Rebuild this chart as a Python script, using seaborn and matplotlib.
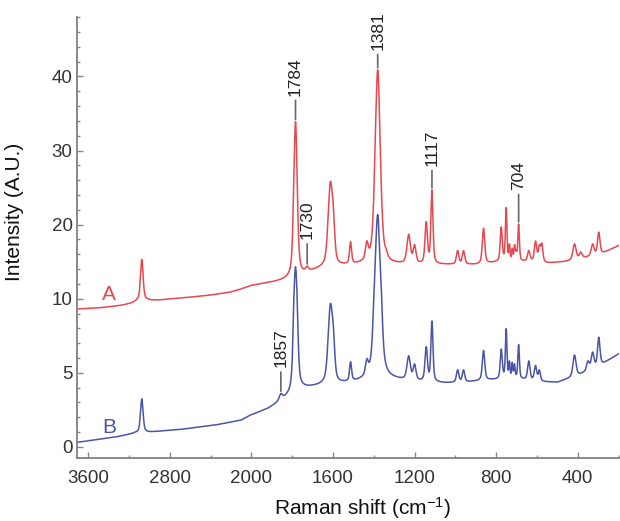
import numpy as np
import pandas as pd
import matplotlib
matplotlib.use("Agg")
import matplotlib.pyplot as plt
import seaborn as sns

# ---------------- data ----------------
# baseline anchor points (Raman shift cm-1, intensity)
base_A_x = [3712, 3460, 3270, 3120, 2990, 2830, 2600, 2390, 2200, 2100, 1950, 1880, 1840, 1750, 1700, 1650, 1550, 1450, 1300, 1050, 900, 800, 650, 550, 460, 350, 280, 196]
base_A_y = [9.3, 9.4, 9.55, 9.75, 9.85, 9.95, 10.2, 10.5, 10.9, 11.3, 12.0, 12.3, 12.5, 13.2, 13.7, 14.1, 14.4, 14.6, 14.6, 14.6, 14.6, 14.9, 15.0, 14.8, 15.0, 15.6, 16.1, 17.2]
base_B_x = [3712, 3300, 3130, 2990, 2660, 2330, 2100, 1990, 1915, 1880, 1830, 1750, 1650, 1550, 1450, 1300, 1200, 1050, 950, 850, 700, 600, 500, 400, 300, 196]
base_B_y = [0.3, 0.7, 0.95, 1.0, 1.2, 1.5, 1.8, 2.2, 2.6, 2.9, 3.3, 3.9, 4.15, 4.25, 4.4, 4.5, 4.4, 4.3, 4.35, 4.5, 4.6, 4.4, 4.35, 4.8, 5.4, 6.3]

# peaks: position (cm-1), apex intensity, half width (cm-1)
peak_A_x = [3075, 1784, 1727, 1613, 1598, 1514, 1434, 1381, 1339, 1229, 1200, 1143, 1115, 989, 960, 862, 775, 751, 735, 721, 710, 702, 690, 640, 607, 588, 576, 416, 385, 327, 297]
peak_A_y = [15.3, 33.9, 14.4, 25.8, 22.4, 17.7, 17.8, 40.9, 16.7, 18.7, 17.3, 20.4, 24.7, 16.5, 16.5, 19.5, 19.7, 22.3, 17.4, 16.8, 17.3, 16.6, 20.1, 16.5, 17.8, 17.3, 17.5, 17.4, 16.3, 17.4, 19.0]
peak_A_w = [15, 10, 8, 13, 8, 6, 8, 15, 7, 10, 8, 7, 6, 7, 7, 7, 6, 4.5, 3.5, 3.5, 3.5, 3.5, 4.5, 7, 7, 6, 6, 9, 8, 8, 7]

peak_B_x = [3075, 1856, 1784, 1727, 1613, 1598, 1514, 1434, 1381, 1339, 1229, 1200, 1143, 1115, 989, 960, 862, 775, 751, 735, 721, 710, 690, 640, 607, 588, 416, 350, 327, 297]
peak_B_y = [3.24, 3.6, 14.3, 4.15, 9.66, 8.1, 5.74, 5.95, 21.35, 5.5, 6.15, 5.6, 6.76, 8.5, 5.2, 5.2, 6.5, 6.6, 7.97, 5.8, 5.7, 5.6, 6.9, 5.8, 5.5, 5.2, 6.2, 5.8, 6.4, 7.4]
peak_B_w = [15, 9, 10, 8, 13, 8, 6, 8, 15, 7, 10, 8, 7, 6, 7, 7, 7, 6, 4.5, 3.5, 3.5, 3.5, 4.5, 7, 7, 6, 9, 8, 8, 7]

# annotations: (text, series, peak position, offset in px)
labels_text = ["1784", "1730", "1381", "1117", "704", "1857"]
labels_series = ["A", "A", "A", "A", "A", "B"]
labels_x = [1784, 1727, 1381, 1115, 690, 1856]
labels_off = [26, 27, 20, 24, 34, 26]

x_ticks = [3600, 2800, 2000, 1600, 1200, 800, 400]
x_minor = [3200, 2400, 1800, 1400, 1000, 600, 200]
y_ticks = [0, 5, 10, 20, 30, 40]

color_A = "#e8474f"
color_B = "#4a55a8"

# ---------------- build spectra from peaks ----------------
shift = np.arange(196.0, 3712.0, 1.0)


def profile(x, x0, w, eta=0.5):
    lor = 1.0 / (1.0 + ((x - x0) / w) ** 2)
    gau = np.exp(-np.log(2) * ((x - x0) / w) ** 2)
    return eta * lor + (1 - eta) * gau


def spectrum(bx, by, px, py, pw):
    order = np.argsort(bx)
    bxs = np.asarray(bx, float)[order]
    bys = np.asarray(by, float)[order]
    base = np.interp(shift, bxs, bys)
    px = np.asarray(px, float)
    pw = np.asarray(pw, float)
    M = np.array([[profile(xi, xj, wj) for xj, wj in zip(px, pw)] for xi in px])
    target = np.asarray(py, float) - np.interp(px, bxs, bys)
    amps = np.linalg.solve(M, target)
    amps = np.clip(amps, 0, None)
    y = base.copy()
    for a, x0, w in zip(amps, px, pw):
        y += a * profile(shift, x0, w)
    return y


yA = spectrum(base_A_x, base_A_y, peak_A_x, peak_A_y, peak_A_w)
yB = spectrum(base_B_x, base_B_y, peak_B_x, peak_B_y, peak_B_w)

df = pd.concat([
    pd.DataFrame({"shift": shift, "intensity": yA, "sample": "A"}),
    pd.DataFrame({"shift": shift, "intensity": yB, "sample": "B"}),
])

# ---------------- plot ----------------
sns.set_style("ticks")
plt.rcParams["font.family"] = ["Liberation Sans", "DejaVu Sans"]
plt.rcParams["mathtext.fontset"] = "custom"
plt.rcParams["mathtext.rm"] = "Liberation Sans"
plt.rcParams["mathtext.it"] = "Liberation Sans:italic"
plt.rcParams["mathtext.default"] = "regular"

fig, ax = plt.subplots(figsize=(6.2, 5.21), dpi=100)
fig.subplots_adjust(left=0.124, right=0.999, top=0.967, bottom=0.121)


def xf(x):
    x = np.asarray(x, float)
    return np.where(x <= 2000, x, 2000 + (x - 2000) / 2.0)


def xi(u):
    u = np.asarray(u, float)
    return np.where(u <= 2000, u, 2000 + 2.0 * (u - 2000))


def yf(y):
    y = np.asarray(y, float)
    return np.where(y <= 10, 2.0 * y, y + 10.0)


def yi(t):
    t = np.asarray(t, float)
    return np.where(t <= 20, t / 2.0, t - 10.0)


ax.set_xscale("function", functions=(xf, xi))
ax.set_yscale("function", functions=(yf, yi))

sns.lineplot(data=df, x="shift", y="intensity", hue="sample",
             palette={"A": color_A, "B": color_B}, estimator=None,
             legend=False, linewidth=1.1, ax=ax)

ax.set_xlim(3712, 196)
ax.set_ylim(-0.75, 48)

ax.set_xticks(x_ticks)
ax.set_xticklabels([str(v) for v in x_ticks])
ax.set_xticks(x_minor, minor=True)
ax.set_yticks(y_ticks)
ax.set_yticklabels([str(v) for v in y_ticks])
ax.set_yticks([v for v in list(range(0, 10)) + list(range(10, 49, 2)) if v not in y_ticks], minor=True)

ax.tick_params(axis="both", which="major", direction="in", length=4, width=1,
               color="#888888", labelsize=13.5, labelcolor="#333333")
ax.tick_params(axis="both", which="minor", direction="in", length=2.5, width=1,
               color="#888888")
ax.tick_params(axis="x", which="major", pad=9)
ax.tick_params(axis="y", which="major", pad=3)

sns.despine(ax=ax)
for s in ["left", "bottom"]:
    ax.spines[s].set_color("#808080")
    ax.spines[s].set_linewidth(1.3)

ax.set_xlabel("Raman shift (cm$^{-1}$)", fontsize=15, color="#111111")
ax.set_ylabel("Intensity (A.U.)", fontsize=15, color="#111111")
ax.xaxis.set_label_coords(0.527, -0.085)
ax.yaxis.set_label_coords(-0.098, 0.558)

# series labels
ax.text(3395, 10.5, "A", color=color_A, fontsize=15, ha="center", va="center")
ax.text(3395, 1.3, "B", color=color_B, fontsize=15, ha="center", va="center")

# peak annotations
for t, s, x0, off in zip(labels_text, labels_series, labels_x, labels_off):
    yy = yA if s == "A" else yB
    idx = np.argmin(np.abs(shift - x0))
    lo, hi = max(idx - 4, 0), idx + 5
    ypk = yy[lo:hi].max()
    ax.annotate(t, xy=(x0, ypk), xycoords="data",
                xytext=(0, off), textcoords="offset pixels",
                rotation=90, ha="center", va="bottom", fontsize=12.5,
                color="#222222", annotation_clip=False,
                arrowprops=dict(arrowstyle="-", color="#666666", lw=1.2,
                                shrinkA=1, shrinkB=1.5))

fig.savefig("out.png", dpi=100)
